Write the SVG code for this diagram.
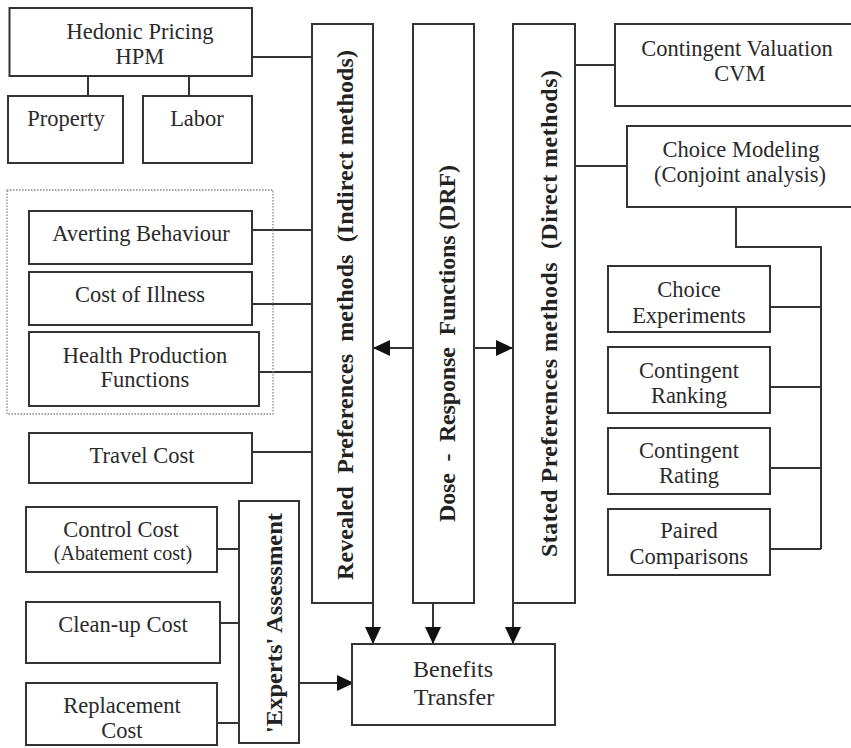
<svg xmlns="http://www.w3.org/2000/svg" width="851" height="748" viewBox="0 0 851 748">
<style>
  .box { fill: #ffffff; stroke: #333333; stroke-width: 2; }
  .dot { fill: none; stroke: #888888; stroke-width: 1.3; stroke-dasharray: 1.5 1.5; }
  .t { font-family: "Liberation Serif", "Times New Roman", serif; font-size: 22.5px; fill: #2a2a2a; text-anchor: middle; }
  .s { font-size: 20px; }
  .b { font-size: 24px; }
  .v { font-family: "Liberation Serif", "Times New Roman", serif; font-size: 24px; font-weight: bold; fill: #222222; text-anchor: middle; }
  .ln { fill: none; stroke: #333333; stroke-width: 2; }
  .ar { fill: none; stroke: #333333; stroke-width: 2; marker-end: url(#arrow); }
</style>
<defs>
  <marker id="arrow" markerUnits="userSpaceOnUse" viewBox="0 0 17 16" refX="17" refY="8" markerWidth="17" markerHeight="16" orient="auto">
    <path d="M0,0 L17,8 L0,16 Z" fill="#111111"/>
  </marker>
</defs>
<rect width="851" height="748" fill="#ffffff"/>

<g id="connectors">
  <line class="ln" x1="88" y1="76" x2="88" y2="96"/>
  <line class="ln" x1="189" y1="76" x2="189" y2="96"/>
  <line class="ln" x1="252" y1="57" x2="313" y2="57"/>
  <line class="ln" x1="252" y1="230" x2="313" y2="230"/>
  <line class="ln" x1="252" y1="304" x2="313" y2="304"/>
  <line class="ln" x1="253" y1="372" x2="313" y2="372"/>
  <line class="ln" x1="252" y1="452" x2="313" y2="452"/>
  <line class="ln" x1="575" y1="65" x2="615" y2="65"/>
  <line class="ln" x1="569" y1="166" x2="627" y2="166"/>
  <polyline class="ln" points="736,207 736,247 821,247 821,549"/>
  <line class="ln" x1="763" y1="307" x2="821" y2="307"/>
  <line class="ln" x1="763" y1="387" x2="821" y2="387"/>
  <line class="ln" x1="770" y1="468" x2="821" y2="468"/>
  <line class="ln" x1="770" y1="549" x2="821" y2="549"/>
  <line class="ln" x1="217" y1="549" x2="239" y2="549"/>
  <line class="ln" x1="220" y1="623" x2="239" y2="623"/>
  <line class="ln" x1="217" y1="723" x2="239" y2="723"/>
  <line class="ar" x1="413" y1="348" x2="373" y2="348"/>
  <line class="ar" x1="474" y1="348" x2="513" y2="348"/>
  <line class="ar" x1="373" y1="603" x2="373" y2="644"/>
  <line class="ar" x1="433" y1="603" x2="433" y2="644"/>
  <line class="ar" x1="513" y1="603" x2="513" y2="644"/>
  <line class="ar" x1="299" y1="683" x2="354" y2="683"/>
</g>

<g id="hpm">
  <rect class="box" x="9.5" y="8" width="242.5" height="68"/>
  <text class="t" x="140" y="39">Hedonic Pricing</text>
  <text class="t" x="140" y="64">HPM</text>
</g>
<g id="property">
  <rect class="box" x="8" y="96" width="115" height="67"/>
  <text class="t" x="66" y="126">Property</text>
</g>
<g id="labor">
  <rect class="box" x="143" y="96" width="109" height="67"/>
  <text class="t" x="197" y="126">Labor</text>
</g>

<g id="health-group">
  <rect class="dot" x="7" y="190" width="266" height="224"/>
</g>
<g id="averting">
  <rect class="box" x="29" y="211" width="223" height="53"/>
  <text class="t" x="141" y="241">Averting Behaviour</text>
</g>
<g id="cost-illness">
  <rect class="box" x="29" y="272" width="223" height="53"/>
  <text class="t" x="140" y="302">Cost of Illness</text>
</g>
<g id="health-production">
  <rect class="box" x="29" y="332" width="230" height="74"/>
  <text class="t" x="145" y="363">Health Production</text>
  <text class="t" x="145" y="387">Functions</text>
</g>
<g id="travel">
  <rect class="box" x="29" y="433" width="223" height="50"/>
  <text class="t" x="142" y="463">Travel Cost</text>
</g>

<g id="control">
  <rect class="box" x="26" y="507" width="191" height="65"/>
  <text class="t" x="121" y="537">Control Cost</text>
  <text class="t s" x="123" y="560">(Abatement cost)</text>
</g>
<g id="cleanup">
  <rect class="box" x="26" y="602" width="194" height="61"/>
  <text class="t" x="123" y="632">Clean-up Cost</text>
</g>
<g id="replacement">
  <rect class="box" x="26" y="683" width="191" height="62"/>
  <text class="t" x="122" y="713">Replacement</text>
  <text class="t" x="122" y="738">Cost</text>
</g>
<g id="experts">
  <rect class="box" x="239" y="501" width="60" height="242"/>
  <text class="v" transform="translate(282,623) rotate(-90)" x="0" y="0" textLength="220" lengthAdjust="spacingAndGlyphs">'Experts' Assessment</text>
</g>

<g id="revealed">
  <rect class="box" x="312" y="24" width="61" height="579"/>
  <text class="v" transform="translate(353,315) rotate(-90)" x="0" y="0" textLength="530" lengthAdjust="spacing" xml:space="preserve">Revealed  Preferences  methods  (Indirect methods)</text>
</g>
<g id="dose">
  <rect class="box" x="413" y="24" width="61" height="579"/>
  <text class="v" transform="translate(455,343.5) rotate(-90)" x="0" y="0" textLength="357" lengthAdjust="spacing" xml:space="preserve">Dose  -  Response  Functions (DRF)</text>
</g>
<g id="stated">
  <rect class="box" x="513" y="24" width="62" height="579"/>
  <text class="v" transform="translate(557,313.5) rotate(-90)" x="0" y="0" textLength="487" lengthAdjust="spacing" xml:space="preserve">Stated Preferences methods  (Direct methods)</text>
</g>

<g id="cvm">
  <rect class="box" x="615" y="24" width="245" height="82"/>
  <text class="t" x="737" y="56">Contingent Valuation</text>
  <text class="t" x="740" y="81">CVM</text>
</g>
<g id="choice-modeling">
  <rect class="box" x="627" y="126" width="233" height="81"/>
  <text class="t" x="741" y="157">Choice Modeling</text>
  <text class="t" x="740" y="182">(Conjoint analysis)</text>
</g>
<g id="choice-experiments">
  <rect class="box" x="608" y="266" width="162" height="66"/>
  <text class="t" x="689" y="297">Choice</text>
  <text class="t" x="689" y="323">Experiments</text>
</g>
<g id="contingent-ranking">
  <rect class="box" x="608" y="347" width="162" height="66"/>
  <text class="t" x="689" y="378">Contingent</text>
  <text class="t" x="689" y="403">Ranking</text>
</g>
<g id="contingent-rating">
  <rect class="box" x="608" y="428" width="162" height="66"/>
  <text class="t" x="689" y="458">Contingent</text>
  <text class="t" x="689" y="483">Rating</text>
</g>
<g id="paired">
  <rect class="box" x="608" y="509" width="162" height="66"/>
  <text class="t" x="689" y="538">Paired</text>
  <text class="t" x="689" y="564">Comparisons</text>
</g>

<g id="benefits">
  <rect class="box" x="352" y="644" width="203" height="81"/>
  <text class="t b" x="453" y="677">Benefits</text>
  <text class="t b" x="454" y="705">Transfer</text>
</g>
</svg>
